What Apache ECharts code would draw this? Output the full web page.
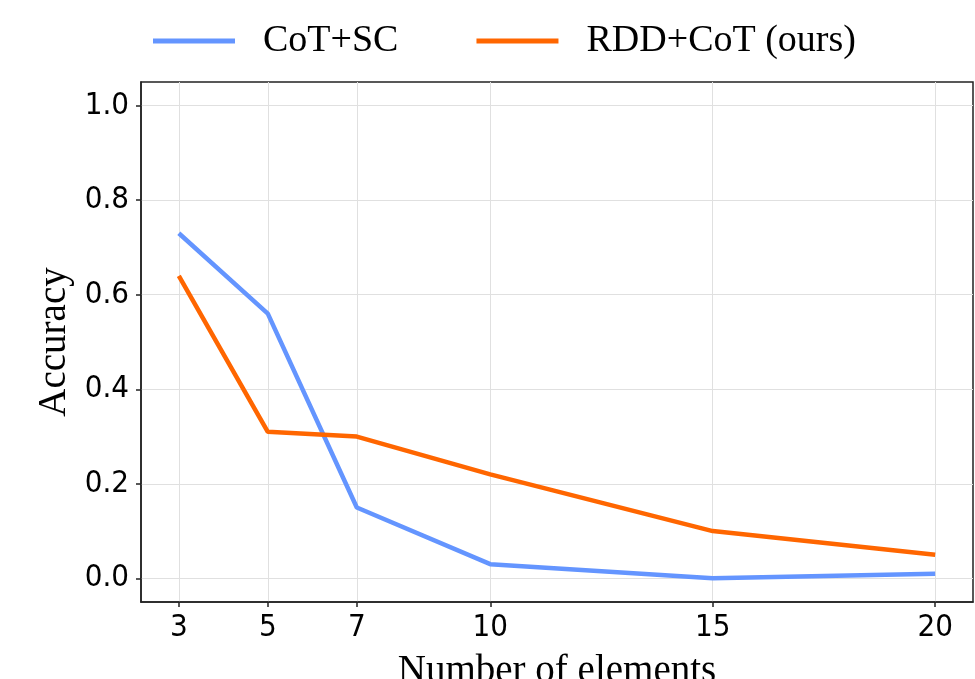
<!DOCTYPE html>
<html>
<head>
<meta charset="utf-8">
<script src="https://cdn.jsdelivr.net/npm/echarts@6/dist/echarts.min.js"></script>
<style>
    html, body { margin: 0; padding: 0; background: #fff; }
    #chart { width: 975px; height: 679px; }
</style>
</head>
<body>
<div id="chart"></div>
<script>
// x 轴数据: 元素个数
const elements = [3, 5, 7, 10, 15, 20];
// 两条曲线的准确率
const cotSc = [0.73, 0.56, 0.15, 0.03, 0.0, 0.01];
const rddCot = [0.64, 0.31, 0.30, 0.22, 0.10, 0.05];
const yTicks = [0, 0.2, 0.4, 0.6, 0.8, 1.0];
const seriesNames = ["CoT+SC", "RDD+CoT (ours)"];

const serif = "'Liberation Serif', 'DejaVu Serif', serif";
const sans = "'DejaVu Sans Condensed', 'DejaVu Sans', sans-serif";

const chart = echarts.init(document.getElementById("chart"));

const option = {
    backgroundColor: "#fff",
    animation: false,
    legend: {
        left: 148,
        top: 17,
        icon: "rect",
        itemWidth: 82,
        itemHeight: 5,
        itemGap: 78,
        data: seriesNames,
        textStyle: {
            fontFamily: serif,
            fontSize: 38,
            color: "#000",
            padding: [8, 0, 0, 23],
        },
    },
    grid: {
        left: 141,
        right: 2,
        top: 82,
        bottom: 77,
        outerBoundsMode: "none",
        containLabel: false,
        show: true,
        borderColor: "#222",
        borderWidth: 1.5,
    },
    xAxis: {
        type: "value",
        min: 2.15,
        max: 20.85,
        name: "Number of elements",
        nameLocation: "middle",
        nameGap: 50,
        nameTextStyle: { fontFamily: serif, fontSize: 39, color: "#000" },
        axisLine: { show: true, onZero: false, lineStyle: { color: "#222", width: 1.5 } },
        axisTick: {
            show: true,
            length: 5,
            customValues: elements,
            lineStyle: { color: "#222", width: 1.5 },
        },
        axisLabel: {
            customValues: elements,
            margin: 10,
            fontFamily: sans,
            fontSize: 31,
            color: "#000",
        },
        splitLine: { show: true, lineStyle: { color: "#e0e0e0", width: 1 } },
    },
    yAxis: {
        type: "value",
        min: -0.05,
        max: 1.05,
        name: "Accuracy",
        nameLocation: "middle",
        nameGap: 65,
        nameTextStyle: { fontFamily: serif, fontSize: 39, color: "#000" },
        axisLine: { show: true, onZero: false, lineStyle: { color: "#222", width: 1.5 } },
        axisTick: {
            show: true,
            length: 5,
            customValues: yTicks,
            lineStyle: { color: "#222", width: 1.5 },
        },
        axisLabel: {
            customValues: yTicks,
            margin: 12,
            fontFamily: sans,
            fontSize: 31,
            color: "#000",
            formatter: (v) => v.toFixed(1),
        },
        splitLine: { show: true, lineStyle: { color: "#e0e0e0", width: 1 } },
    },
    series: [
        {
            name: seriesNames[0],
            type: "line",
            data: elements.map((x, i) => [x, cotSc[i]]),
            symbol: "none",
            color: "#6495ff",
            lineStyle: { width: 4.5, color: "#6495ff" },
        },
        {
            name: seriesNames[1],
            type: "line",
            data: elements.map((x, i) => [x, rddCot[i]]),
            symbol: "none",
            color: "#ff6600",
            lineStyle: { width: 4.5, color: "#ff6600" },
        },
    ],
};

chart.setOption(option);
</script>
</body>
</html>
